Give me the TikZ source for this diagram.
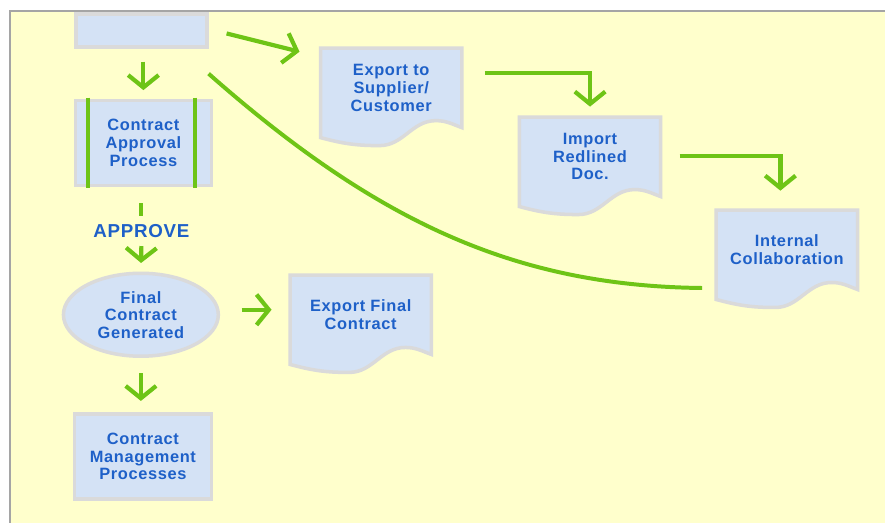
\documentclass[tikz,border=0pt]{standalone}
\usepackage{fontspec}
\newfontfamily\flowfont[LetterSpace=4]{Liberation Sans}
\usetikzlibrary{positioning, calc, shapes.geometric, arrows.meta}

\definecolor{paper}{RGB}{255,255,204}
\definecolor{framegray}{RGB}{165,165,165}
\definecolor{boxfill}{RGB}{212,226,245}
\definecolor{boxline}{RGB}{218,218,218}
\definecolor{flowgreen}{RGB}{110,196,22}
\definecolor{textblue}{RGB}{30,96,200}

\pgfdeclarelayer{bg}
\pgfdeclarelayer{docs}
\pgfsetlayers{bg,docs,main}

\tikzstyle{flowtext}=[text=textblue, align=center,
  font=\flowfont\bfseries\fontsize{14}{15}\selectfont]
\tikzstyle{box}=[flowtext, draw=boxline, fill=boxfill, line width=3pt, inner sep=0pt]
\tikzstyle{doc}=[flowtext, inner sep=0pt, minimum width=4.23cm, minimum height=2.37cm]
\tikzstyle{docline}=[draw=boxline, fill=boxfill, line width=3pt]
\tikzstyle{flow}=[color=flowgreen, line width=3.6pt, -{Straight Barb[length=10.5pt,width=26pt]}]
\tikzstyle{bar}=[draw=flowgreen, line width=3.4pt]

\begin{document}
\begin{tikzpicture}[x=0.03cm, y=0.03cm]
        % paper
        \begin{pgfonlayer}{bg}
          \fill[white] (0,0) rectangle (886,523);
          \fill[paper] (10,0) rectangle (886,512);
          \draw[framegray, line width=1.2pt] (10,0) -- (10,512) -- (886,512);
        \end{pgfonlayer}
        \useasboundingbox (0,0) rectangle (886,523);

        % left column
        \node[box, minimum width=3.93cm, minimum height=0.99cm] (top) at (141.5,492.5) {};
        \node[box, minimum width=4.08cm, minimum height=2.55cm] (approval) at (143.5,380) {Contract\\Approval\\Process};
        \node[flowtext, font=\flowfont\bfseries\fontsize{16}{17}\selectfont,
              inner sep=0pt, minimum height=0.9cm] (approve) at (141.5,292) {APPROVE};
        \node[box, ellipse, minimum width=4.65cm, minimum height=2.49cm] (final) at (141,208) {Final\\Contract\\Generated};
        \node[box, minimum width=4.11cm, minimum height=2.55cm] (mgmt) at (143,66) {Contract\\Management\\Processes};

        % documents
        \node[doc] (supplier) at (391.5,435) {Export to\\Supplier/\\Customer};
        \node[doc] (import) at (590.5,366) {Import\\Redlined\\Doc.};
        \node[doc] (internal) at (787.5,273) {Internal\\Collaboration};
        \node[doc] (exportfinal) at (361,208) {Export Final\\Contract};

        \begin{pgfonlayer}{docs}
          \foreach \d in {supplier, import, internal, exportfinal}
            \draw[docline] (\d.north west) -- (\d.north east) -- (\d.south east)
              to[out=160, in=0] ($(\d.south east)+(-26,7)$)
              to[out=180, in=0] ($(\d.south west)+(59,-18)$)
              to[out=180, in=-15] ($(\d.south west)+(0,-10)$) -- cycle;
        \end{pgfonlayer}

        % approval bars
        \draw[bar] ([shift={(14.5,1)}]approval.north west) -- ([shift={(14.5,-1)}]approval.south west);
        \draw[bar] ([shift={(-18.5,1)}]approval.north east) -- ([shift={(-18.5,-1)}]approval.south east);

        % connector ends
        \coordinate (supout) at ([shift={(23,15)}]supplier.east);
        \coordinate (impout) at ([shift={(19,1)}]import.east);
        \coordinate (inttop) at ([shift={(-6.5,0)}]internal.north);

        \path[flow]
        (approval.north |- top.south) edge[shorten <=11pt, shorten >=7.3pt] (approval.north)
        (approve.north |- approval.south) edge[-, shorten <=14pt] (approve.north)
        (approve.south) edge[shorten >=7.3pt] (final.north)
        (final.south) edge[shorten <=13pt, shorten >=9.8pt] (final.south |- mgmt.north)
        ([shift={(0,5)}]final.east) edge[shorten <=18.4pt, shorten >=15.8pt] ([shift={(0,5)}]exportfinal.west)
        ([shift={(18,-3)}]top.east) edge ([shift={(-21,-3.5)}]supplier.north west)
        (supout) edge[to path={-| (\tikztotarget)}, shorten >=9pt] (import.north)
        (impout) edge[to path={-| (\tikztotarget)}, shorten >=16.6pt] (inttop);

        % back to internal collaboration
        \draw[bar] ([shift={(0,-25)}]top.south east) .. controls +(170,-150) and +(-185,2) .. ([shift={(-14,1.5)}]internal.south west);
\end{tikzpicture}
\end{document}
